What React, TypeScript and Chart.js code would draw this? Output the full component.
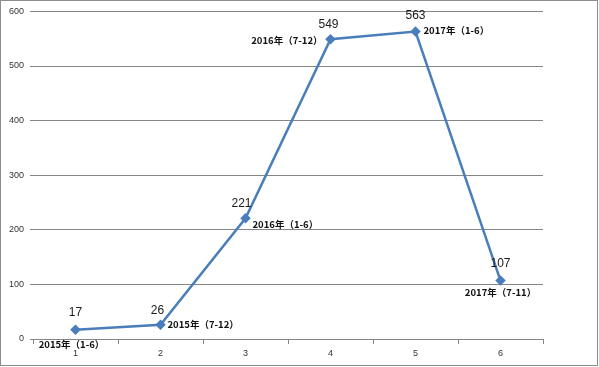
import React, { useEffect, useRef } from "react";
import { Chart, registerables } from "chart.js";

Chart.register(...registerables);

const categories = ["1", "2", "3", "4", "5", "6"];
const values = [17, 26, 221, 549, 563, 107];
const periodLabels = [
  "2015年（1-6）",
  "2015年（7-12）",
  "2016年（1-6）",
  "2016年（7-12）",
  "2017年（1-6）",
  "2017年（7-11）",
];
const yTicks = [0, 100, 200, 300, 400, 500, 600];

// label placement relative to each point: [dx, dy, align]
const periodOffsets: [number, number, CanvasTextAlign][] = [
  [-4, 15, "center"],
  [7, 0, "left"],
  [7, 6, "left"],
  [-8, 1, "right"],
  [8, -1, "left"],
  [0, 12, "center"],
];
const valueOffsets: [number, number][] = [
  [0, -17],
  [-3, -14],
  [-4, -15],
  [-2, -15],
  [0, -16],
  [0, -17],
];

const labelPlugin = {
  id: "pointLabels",
  afterDatasetsDraw(chart: any) {
    const ctx = chart.ctx;
    const meta = chart.getDatasetMeta(0);
    ctx.save();
    meta.data.forEach((pt: any, i: number) => {
      const [vx, vy] = valueOffsets[i];
      ctx.fillStyle = "#1a1a1a";
      ctx.font = "12px 'Liberation Sans', Arial, sans-serif";
      ctx.textAlign = "center";
      ctx.textBaseline = "middle";
      ctx.fillText(String(values[i]), pt.x + vx, pt.y + vy);
      const [px, py, align] = periodOffsets[i];
      ctx.font = "bold 9.5px 'Noto Sans CJK SC', sans-serif";
      ctx.textAlign = align;
      ctx.fillStyle = "#111";
      ctx.fillText(periodLabels[i], pt.x + px, pt.y + py);
    });
    ctx.restore();
  },
};

export default function App() {
  const ref = useRef<HTMLCanvasElement>(null);
  useEffect(() => {
    if (!ref.current) return;
    const chart = new Chart(ref.current, {
      type: "line",
      data: {
        labels: categories,
        datasets: [
          {
            data: values,
            borderColor: "#4A7EBB",
            backgroundColor: "#4A7EBB",
            borderWidth: 2.5,
            pointStyle: "rectRot",
            pointRadius: 3.5,
            pointHoverRadius: 3.5,
            tension: 0,
          },
        ],
      },
      options: {
        animation: false,
        responsive: false,
        maintainAspectRatio: false,
        layout: { padding: { top: 11, right: 55, left: 0, bottom: 0 } },
        plugins: {
          legend: { display: false },
          tooltip: { enabled: false },
        },
        scales: {
          x: {
            type: "category",
            offset: true,
            grid: {
              offset: true,
              drawOnChartArea: false,
              drawTicks: true,
              tickLength: 5,
              color: "#868686",
            },
            border: { display: false },
            ticks: {
              color: "#333",
              padding: 4,
              font: { size: 9, family: "'Liberation Sans', Arial, sans-serif" },
            },
            afterFit(scale: any) {
              scale.height = 27;
            },
          },
          y: {
            min: 0,
            max: 600,
            afterBuildTicks(scale: any) {
              scale.ticks = yTicks.map((v) => ({ value: v }));
            },
            grid: {
              color: "#868686",
              lineWidth: 1,
              drawTicks: true,
              tickLength: 3,
            },
            border: { display: false },
            ticks: {
              color: "#333",
              padding: 6,
              font: { size: 9, family: "'Liberation Sans', Arial, sans-serif" },
            },
            afterFit(scale: any) {
              scale.width = 33;
            },
          },
        },
      },
      plugins: [labelPlugin],
    });
    return () => chart.destroy();
  }, []);
  return (
    <div
      style={{
        position: "absolute",
        left: 0,
        top: 0,
        width: 599,
        height: 367,
        background: "#fff",
      }}
    >
      <canvas ref={ref} width={598} height={366} style={{ display: "block" }} />
      <div
        style={{
          position: "absolute",
          left: 0,
          top: 0,
          width: 596,
          height: 364,
          border: "1px solid #8c8c8c",
          pointerEvents: "none",
        }}
      />
    </div>
  );
}
